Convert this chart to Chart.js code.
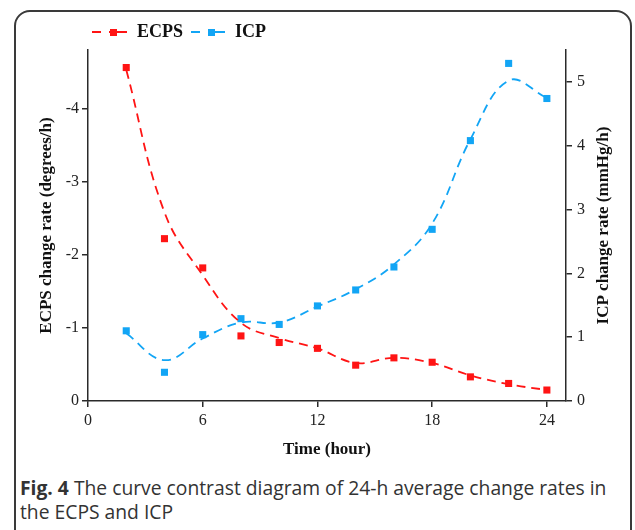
<!DOCTYPE html>
<html>
<head>
<meta charset="utf-8">
<script src="https://cdn.jsdelivr.net/npm/chart.js"></script>
<style>
  html, body { margin: 0; padding: 0; background: #fff; }
  body { width: 635px; height: 530px; position: relative; overflow: hidden; }
  .card {
    position: absolute; left: 14px; top: 10px; width: 618px; height: 540px;
    border: 2px solid #3a3a3a; border-radius: 16px; box-sizing: border-box;
  }
  #wrap { position: absolute; left: 0; top: 0; width: 635px; height: 470px; }
  .legend {
    position: absolute; top: 21px; left: 92px; display: flex; align-items: center;
    font: bold 18px "Liberation Serif", "Times New Roman", serif; color: #111;
  }
  .legend svg { display: block; margin-right: 10px; }
  .legend span { margin-right: 8px; }
  .caption {
    position: absolute; left: 20px; top: 476px; width: 600px;
    font: 19.3px "Open Sans", sans-serif; line-height: 24px; color: #333;
  }
  .caption b { font-weight: 700; }
</style>
</head>
<body>
<div class="card"></div>
<div id="wrap"><canvas id="chart"></canvas></div>
<div class="legend">
  <svg width="35" height="12"><line x1="0" y1="6" x2="35" y2="6" stroke="#ff1414" stroke-width="2" stroke-dasharray="9,8"/><rect x="18" y="3" width="7" height="7" fill="#ff1414"/><line x1="25" y1="6" x2="35" y2="6" stroke="#ff1414" stroke-width="2"/></svg>
  <span>ECPS</span>
  <svg width="34" height="12"><line x1="0" y1="6" x2="34" y2="6" stroke="#12a5f5" stroke-width="2" stroke-dasharray="9,8"/><rect x="17" y="3" width="7" height="7" fill="#12a5f5"/><line x1="24" y1="6" x2="34" y2="6" stroke="#12a5f5" stroke-width="2"/></svg>
  <span>ICP</span>
</div>
<div class="caption"><b>Fig. 4</b> The curve contrast diagram of 24-h average change rates in the ECPS and ICP</div>
<script>
// hours
const hours = [2, 4, 6, 8, 10, 12, 14, 16, 18, 20, 22, 24];

// measured points
const ecpsPoints = [-4.56, -2.22, -1.82, -0.89, -0.80, -0.72, -0.49, -0.59, -0.53, -0.33, -0.24, -0.15];
const icpPoints = [1.10, 0.45, 1.04, 1.29, 1.20, 1.49, 1.74, 2.10, 2.69, 4.08, 5.29, 4.74];

// fitted curves at the same hours
const ecpsCurve = [-4.53, -2.58, -1.72, -1.07, -0.86, -0.72, -0.52, -0.59, -0.52, -0.35, -0.23, -0.15];
const icpCurve = [1.06, 0.64, 0.98, 1.23, 1.23, 1.48, 1.75, 2.14, 2.78, 4.10, 5.02, 4.75];

// tick labels
const xTicks = [0, 6, 12, 18, 24];
const ecpsTicks = [0, -1, -2, -3, -4];
const icpTicks = [0, 1, 2, 3, 4, 5];

const RED = '#ff1414';
const BLUE = '#12a5f5';
const AXIS = '#2a2a2a';
const SERIF = '"Liberation Serif", "Times New Roman", serif';

const toXY = (ys) => hours.map((h, i) => ({ x: h, y: ys[i] }));
const fixTicks = (vals) => (s) => { s.ticks = vals.map(v => ({ value: v })); };

const curve = (data, color, axis) => ({
  data: toXY(data), yAxisID: axis, borderColor: color, borderWidth: 1.8,
  borderDash: [9, 6], tension: 0.4, pointRadius: 0, fill: false
});
const points = (data, color, axis) => ({
  data: toXY(data), yAxisID: axis, showLine: false, pointStyle: 'rect',
  pointRadius: 5, pointBackgroundColor: color, pointBorderWidth: 0, borderColor: color
});

// right axis title reads bottom to top, so draw it here
const rightTitle = {
  id: 'rightTitle',
  afterDraw(chart) {
    const { ctx, chartArea } = chart;
    ctx.save();
    ctx.translate(604, (chartArea.top + chartArea.bottom) / 2);
    ctx.rotate(-Math.PI / 2);
    ctx.font = 'bold 17px ' + SERIF;
    ctx.fillStyle = '#111';
    ctx.textAlign = 'center';
    ctx.textBaseline = 'middle';
    ctx.fillText('ICP change rate (mmHg/h)', 0, 0);
    ctx.restore();
  }
};

const axisBase = {
  grid: { drawOnChartArea: false, drawTicks: true, tickLength: 6, color: AXIS, lineWidth: 1.5 },
  border: { color: AXIS, width: 1.5 },
};
const tickFont = { family: SERIF, size: 16 };
const titleFont = { family: SERIF, size: 17, weight: 'bold' };

new Chart(document.getElementById('chart'), {
  type: 'line',
  data: {
    datasets: [
      curve(ecpsCurve, RED, 'y'),
      points(ecpsPoints, RED, 'y'),
      curve(icpCurve, BLUE, 'y1'),
      points(icpPoints, BLUE, 'y1')
    ]
  },
  options: {
    responsive: true,
    maintainAspectRatio: false,
    animation: false,
    layout: { padding: { left: 36, right: 23, top: 50, bottom: 10 } },
    plugins: { legend: { display: false }, tooltip: { enabled: false } },
    scales: {
      x: {
        ...axisBase, type: 'linear', min: 0, max: 25,
        afterBuildTicks: fixTicks(xTicks),
        afterFit: (s) => { s.height = 59; },
        ticks: { font: tickFont, color: '#222', padding: 4 },
        title: { display: true, text: 'Time (hour)', color: '#111', font: titleFont, padding: 0 }
      },
      y: {
        ...axisBase, position: 'left', min: -4.8, max: 0, reverse: true,
        afterBuildTicks: fixTicks(ecpsTicks),
        afterFit: (s) => { s.width = 52; },
        ticks: { font: tickFont, color: '#222', padding: 3 },
        title: { display: true, text: 'ECPS change rate (degrees/h)', color: '#111', font: titleFont, padding: 0 }
      },
      y1: {
        ...axisBase, position: 'right', min: 0, max: 5.5,
        afterBuildTicks: fixTicks(icpTicks),
        afterFit: (s) => { s.width = 46; },
        ticks: { font: tickFont, color: '#222', padding: 5 }
      }
    }
  },
  plugins: [rightTitle]
});
</script>
</body>
</html>
